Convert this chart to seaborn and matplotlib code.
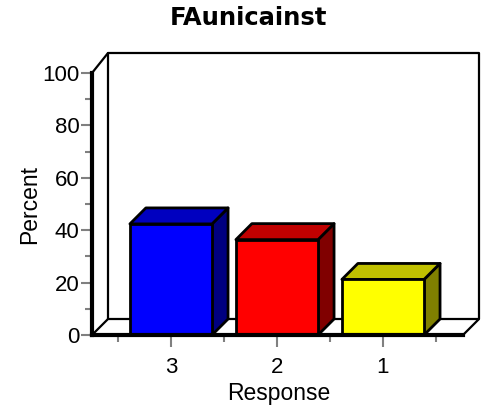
import matplotlib
matplotlib.use('Agg')
import matplotlib.pyplot as plt
from matplotlib.patches import Polygon
from matplotlib.ticker import FixedLocator, MultipleLocator
import seaborn as sns
import pandas as pd
import numpy as np

categories = ['3', '2', '1']
percents = [42.4, 36.4, 21.2]
front_colors = ['#0000FF', '#FF0000', '#FFFF00']
top_colors = ['#0000C0', '#C00000', '#C0C000']
side_colors = ['#000080', '#800000', '#808000']
title = 'FAunicainst'
xlabel = 'Response'
ylabel = 'Percent'

sns.set_theme(style='white')
plt.rcParams['font.family'] = ['Liberation Sans', 'DejaVu Sans']
plt.rcParams['text.color'] = 'black'

W, H = 488, 408
fig = plt.figure(figsize=(W / 100, H / 100), dpi=100)
ax = fig.add_axes([92 / W, (H - 335) / H, 371 / W, 262 / H])
ax.set_facecolor('none')

df = pd.DataFrame({'Response': categories, 'Percent': percents})
sns.barplot(data=df, x='Response', y='Percent', hue='Response',
            palette=front_colors, width=0.775, edgecolor='black',
            linewidth=2, legend=False, ax=ax, zorder=4, saturation=1)
ax.set_xlim(-0.745, 2.755)
ax.set_ylim(0, 100)

# depth offsets in data units
p0 = ax.transData.transform((0, 0))
dx, dy = ax.transData.inverted().transform(p0 + np.array([16, 16]))
_, dy_top = ax.transData.inverted().transform(p0 + np.array([16, 20]))
xmin, xmax = ax.get_xlim()

# floor
floor = Polygon([(xmin, 0), (xmax, 0), (xmax + dx, dy), (xmin + dx, dy)],
                closed=True, facecolor='white', edgecolor='black', lw=1.6,
                zorder=1, clip_on=False)
ax.add_patch(floor)
# back wall lines
wall_x = [xmin, xmin + dx, xmax + dx, xmax + dx]
wall_y = [100, 100 + dy_top, 100 + dy_top, dy]
ax.plot(wall_x, wall_y, color='black', lw=1.6, clip_on=False, zorder=1)
ax.plot([xmin + dx, xmin + dx], [dy, 100 + dy_top], color='black', lw=1.6,
        clip_on=False, zorder=1)

# 3D faces of bars
bars = [p for p in ax.patches if p is not floor]
for i, p in enumerate(bars):
    x0 = p.get_x()
    x1 = x0 + p.get_width()
    h = p.get_height()
    top = Polygon([(x0, h), (x1, h), (x1 + dx, h + dy), (x0 + dx, h + dy)],
                  closed=True, facecolor=top_colors[i], edgecolor='black',
                  lw=2, zorder=3, clip_on=False, joinstyle='round')
    side = Polygon([(x1, 0), (x1, h), (x1 + dx, h + dy), (x1 + dx, dy)],
                   closed=True, facecolor=side_colors[i], edgecolor='black',
                   lw=2, zorder=3, clip_on=False, joinstyle='round')
    ax.add_patch(side)
    ax.add_patch(top)

for s in ['top', 'right']:
    ax.spines[s].set_visible(False)
for s in ['left', 'bottom']:
    ax.spines[s].set_color('black')
    ax.spines[s].set_linewidth(3)
    ax.spines[s].set_zorder(5)
    ax.spines[s].set_capstyle('projecting')

ax.yaxis.set_major_locator(MultipleLocator(20))
ax.yaxis.set_minor_locator(MultipleLocator(10))
ax.xaxis.set_minor_locator(FixedLocator([-0.5, 0.5, 1.5, 2.5]))
ax.tick_params(axis='both', which='major', color='#808080', width=1.5,
               labelsize=16, labelcolor='black')
ax.tick_params(axis='y', which='major', length=8, pad=1, left=True)
ax.tick_params(axis='y', which='minor', length=5, width=1.5, color='#808080', left=True)
ax.tick_params(axis='x', which='major', length=8.5, pad=7, bottom=True)
ax.tick_params(axis='x', which='minor', length=5, width=1.5, color='#808080', bottom=True)
ax.set_xlabel('')
ax.set_ylabel('')

fig.text(248 / W, 1 - 25 / H, title, ha='center', va='baseline',
         fontsize=17.5, fontweight='bold', color='black',
         family=['DejaVu Sans'])
fig.text(279 / W, 1 - 400 / H, xlabel, ha='center', va='baseline',
         fontsize=16.5, color='black')
fig.text(36 / W, 1 - 204 / H, ylabel, ha='center', va='baseline',
         fontsize=16.5, rotation=90, rotation_mode='anchor', color='black')

fig.savefig('out.png', dpi=100)
